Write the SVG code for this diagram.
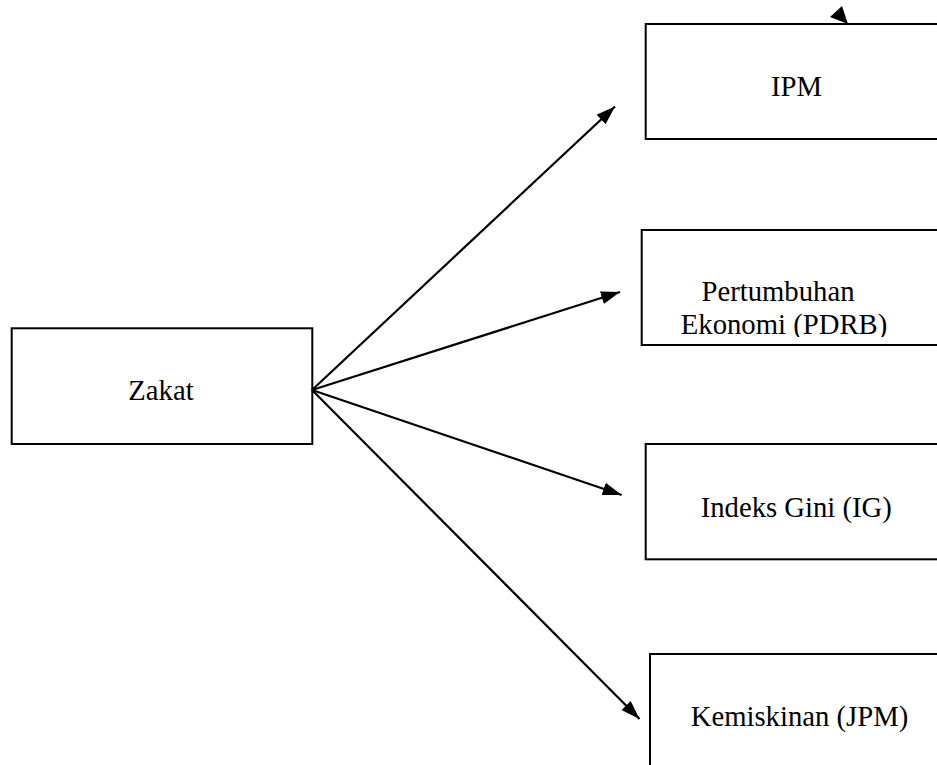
<svg xmlns="http://www.w3.org/2000/svg" width="937" height="765" viewBox="0 0 937 765">
<style>
.box{fill:#fff;stroke:#000;stroke-width:2}
.lbl{font-family:'Liberation Serif','Times New Roman',Times,serif;font-size:28.7px;fill:#000;text-anchor:middle}
.conn{stroke:#000;stroke-width:2.2;fill:none}
</style>
<defs>
<marker id="ah" viewBox="0 0 19 13" refX="19" refY="6.5" markerWidth="19" markerHeight="13" markerUnits="userSpaceOnUse" orient="auto">
<path d="M0,0 L19,6.5 L0,13 Z" fill="#000"/>
</marker>
<clipPath id="clipP"><rect x="642" y="231" width="300" height="106"/></clipPath>
</defs>
<rect width="937" height="765" fill="#fff"/>
<g id="zakat">
<rect class="box" x="11.7" y="328.3" width="300.6" height="115.7"/>
<text class="lbl" x="161" y="399.5">Zakat</text>
</g>
<g id="ipm">
<rect class="box" x="645.7" y="24" width="320" height="115"/>
<text class="lbl" x="796.5" y="96">IPM</text>
</g>
<g id="pdrb">
<rect class="box" x="641.7" y="230" width="320" height="115"/>
<g clip-path="url(#clipP)">
<text class="lbl" x="778" y="301">Pertumbuhan</text>
<text class="lbl" x="784" y="333.5">Ekonomi (PDRB)</text>
</g>
</g>
<g id="gini">
<rect class="box" x="645.7" y="444" width="320" height="115.3"/>
<text class="lbl" x="796.3" y="517">Indeks Gini (IG)</text>
</g>
<g id="jpm">
<rect class="box" x="650" y="654" width="320" height="130"/>
<text class="lbl" x="799.5" y="725.5">Kemiskinan (JPM)</text>
</g>
<g id="connectors">
<line class="conn" x1="312" y1="390" x2="615" y2="106.5" marker-end="url(#ah)"/>
<line class="conn" x1="312" y1="390" x2="620" y2="292" marker-end="url(#ah)"/>
<line class="conn" x1="312" y1="390" x2="621.7" y2="495" marker-end="url(#ah)"/>
<line class="conn" x1="312" y1="390" x2="639.5" y2="719" marker-end="url(#ah)"/>
<polygon points="830,17 842,6 848,24" fill="#000"/>
</g>
</svg>
